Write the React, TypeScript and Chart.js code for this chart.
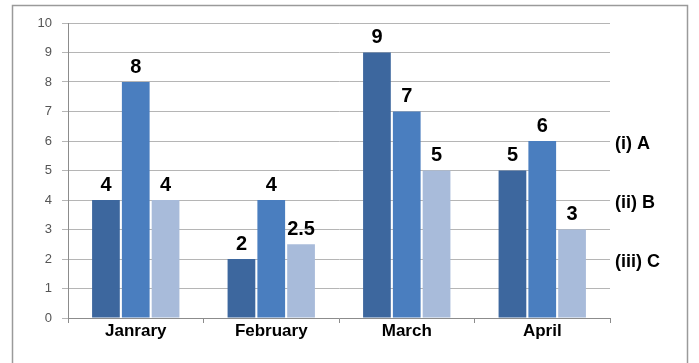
import React, { useEffect, useRef } from "react";
import { Chart, registerables } from "chart.js";

Chart.register(...registerables);

const categories = ["Janrary", "February", "March", "April"];
const seriesA = [4, 2, 9, 5];
const seriesB = [8, 4, 7, 6];
const seriesC = [4, 2.5, 5, 3];
const seriesNames = ["(i) A", "(ii) B", "(iii) C"];
const seriesLabelValues = [6, 4, 2];
const yTicks = [0, 1, 2, 3, 4, 5, 6, 7, 8, 9, 10];

const colors = ["#3D679E", "#4A7EBF", "#A8BBDA"];
const FONT = "Arial, 'Liberation Sans', sans-serif";

export default function App() {
  const ref = useRef<HTMLCanvasElement>(null);

  useEffect(() => {
    if (!ref.current) return;

    const borderPlugin = {
      id: "outerBorder",
      beforeDraw(chart: any) {
        const ctx = chart.ctx;
        ctx.save();
        ctx.fillStyle = "#ffffff";
        ctx.fillRect(0, 0, chart.width, chart.height);
        ctx.strokeStyle = "#9a9a9a";
        ctx.lineWidth = 1.5;
        ctx.strokeRect(12.5, 5.5, 675, 370);
        ctx.restore();
      },
    };

    const labelPlugin = {
      id: "valueLabels",
      afterDatasetsDraw(chart: any) {
        const ctx = chart.ctx;
        ctx.save();
        ctx.font = "bold 20px " + FONT;
        ctx.fillStyle = "#000";
        ctx.textAlign = "center";
        ctx.textBaseline = "bottom";
        chart.data.datasets.forEach((ds: any, i: number) => {
          const meta = chart.getDatasetMeta(i);
          meta.data.forEach((bar: any, j: number) => {
            ctx.fillText(String(ds.data[j]), bar.x, bar.y - 5);
          });
        });
        // side labels
        const y = chart.scales.y;
        ctx.textAlign = "left";
        ctx.textBaseline = "middle";
        ctx.font = "bold 18px " + FONT;
        seriesNames.forEach((n, i) => {
          ctx.fillText(n, chart.chartArea.right + 5, y.getPixelForValue(seriesLabelValues[i]) + 3);
        });
        ctx.restore();
      },
    };

    const chart = new Chart(ref.current, {
      type: "bar",
      data: {
        labels: categories,
        datasets: [
          { label: seriesNames[0], data: seriesA, backgroundColor: colors[0] },
          { label: seriesNames[1], data: seriesB, backgroundColor: colors[1] },
          { label: seriesNames[2], data: seriesC, backgroundColor: colors[2] },
        ],
      },
      options: {
        responsive: false,
        animation: false,
        devicePixelRatio: 1,
        layout: { padding: { left: 20, right: 89, top: 23, bottom: 0 } },
        datasets: {
          bar: { categoryPercentage: 0.66, barPercentage: 0.93 },
        },
        plugins: {
          legend: { display: false },
          tooltip: { enabled: false },
        },
        scales: {
          x: {
            grid: {
              offset: true,
              drawOnChartArea: false,
              color: "#8c8c8c",
              tickLength: 5,
            },
            border: { color: "#8c8c8c" },
            ticks: {
              color: "#000",
              font: { family: FONT, size: 17, weight: "bold" },
              padding: -2,
            },
            afterFit: (s: any) => {
              s.height = 45;
            },
          },
          y: {
            min: 0,
            max: 10,
            afterBuildTicks: (s: any) => {
              s.ticks = yTicks.map((v) => ({ value: v }));
            },
            grid: { color: "#b5b5b5", tickLength: 6 },
            border: { color: "#8c8c8c" },
            ticks: {
              color: "#555555",
              font: { family: FONT, size: 13 },
              padding: 10,
            },
            afterFit: (s: any) => {
              s.width = 48;
            },
          },
        },
      },
      plugins: [borderPlugin, labelPlugin],
    });
    return () => chart.destroy();
  }, []);

  return (
    <div style={{ position: "fixed", left: 0, top: 0, width: 699, height: 363, background: "#fff" }}>
      <canvas ref={ref} width={699} height={363} style={{ width: 699, height: 363, display: "block" }} />
    </div>
  );
}
